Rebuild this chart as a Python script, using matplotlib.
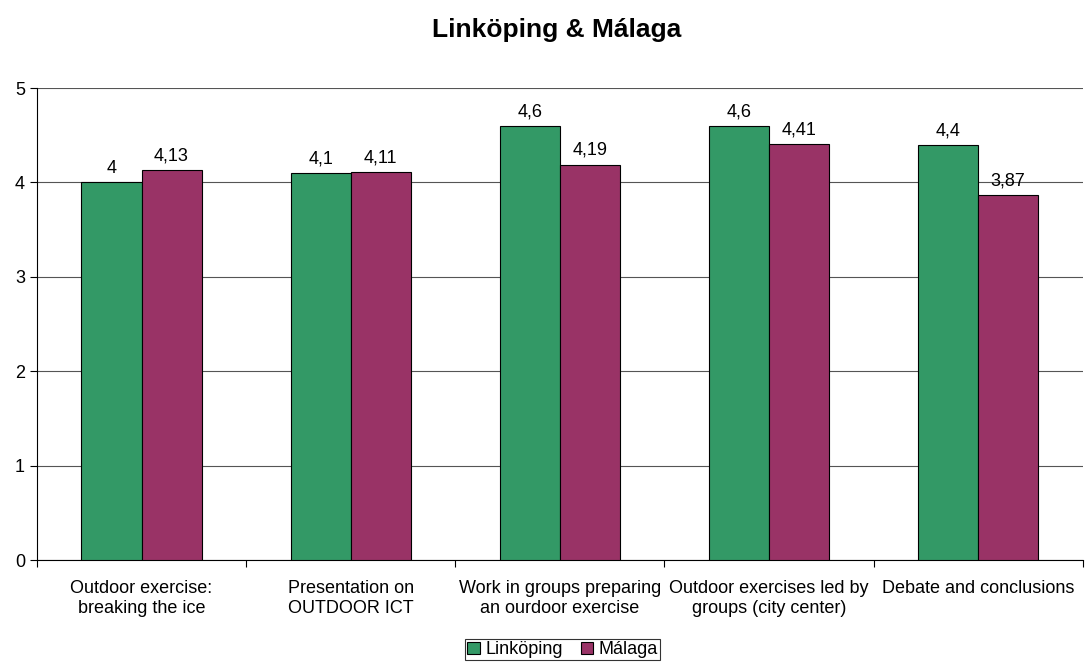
import matplotlib
matplotlib.use("Agg")
import matplotlib.pyplot as plt
import numpy as np

categories = ["Outdoor exercise:\nbreaking the ice",
              "Presentation on\nOUTDOOR ICT",
              "Work in groups preparing\nan ourdoor exercise",
              "Outdoor exercises led by\ngroups (city center)",
              "Debate and conclusions"]
linkoping = [4.0, 4.1, 4.6, 4.6, 4.4]
malaga = [4.13, 4.11, 4.19, 4.41, 3.87]
lab_link = ["4", "4,1", "4,6", "4,6", "4,4"]
lab_mal = ["4,13", "4,11", "4,19", "4,41", "3,87"]

plt.rcParams['font.family'] = ['Liberation Sans', 'DejaVu Sans']

fig = plt.figure(figsize=(10.86, 6.62), dpi=100)
ax = fig.add_axes([0.034, 0.154, 0.963, 0.713])

x = np.arange(len(categories))
w = 0.287
b1 = ax.bar(x - w/2, linkoping, w, color="#339966", edgecolor="black", linewidth=0.8, label="Linköping", zorder=3)
b2 = ax.bar(x + w/2, malaga, w, color="#993366", edgecolor="black", linewidth=0.8, label="Málaga", zorder=3)

for rect, t in zip(b1, lab_link):
    ax.text(rect.get_x() + rect.get_width()/2, rect.get_height() + 0.06, t,
            ha="center", va="bottom", fontsize=13, zorder=4)
for rect, t in zip(b2, lab_mal):
    ax.text(rect.get_x() + rect.get_width()/2, rect.get_height() + 0.06, t,
            ha="center", va="bottom", fontsize=13, zorder=4)

ax.set_xlim(-0.5, len(categories) - 0.5)
ax.set_ylim(0, 5)
ax.set_yticks(range(6))
ax.yaxis.grid(True, color="#555555", linewidth=0.8, zorder=0)
ax.tick_params(axis="y", labelsize=13, length=5, direction="out")

ax.set_xticks(np.arange(len(categories) + 1) - 0.5)
ax.set_xticklabels([])
ax.set_xticks(x, minor=True)
ax.set_xticklabels(categories, minor=True, fontsize=13)
ax.tick_params(axis="x", which="major", length=5, direction="out")
ax.tick_params(axis="x", which="minor", length=0, pad=14.5)

ax.spines["top"].set_visible(False)
ax.spines["right"].set_visible(False)

fig.text(0.513, 0.955, "Linköping & Málaga", fontsize=19, fontweight="bold", ha="center", va="center")

leg = fig.legend(handles=[b1, b2], loc="upper center", bbox_to_anchor=(0.518, 0.034),
                 ncol=2, fontsize=13, frameon=True, fancybox=False, edgecolor="black",
                 handlelength=0.7, handleheight=0.7, handletextpad=0.3, columnspacing=1.0,
                 borderpad=0.1, borderaxespad=0)
leg.get_frame().set_linewidth(0.8)

fig.savefig("out.png", dpi=100)
